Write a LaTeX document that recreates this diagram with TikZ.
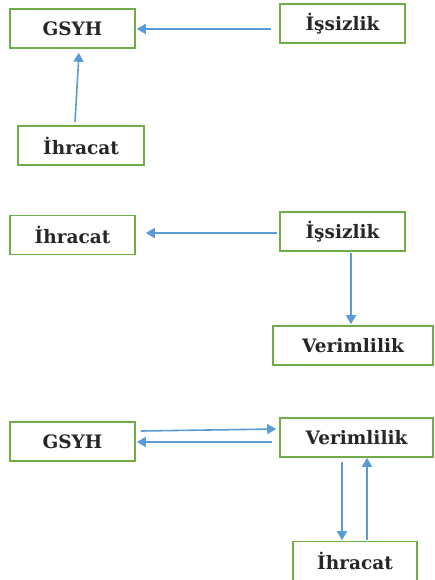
\documentclass[tikz,border=0pt]{standalone}
\usepackage{fontspec}
\setmainfont{DejaVu Serif}
\usetikzlibrary{arrows.meta}
\definecolor{boxgreen}{HTML}{70AD47}
\definecolor{arrblue}{HTML}{5B9BD5}
\tikzset{
  box/.style={draw=boxgreen, line width=1.6pt, fill=white, rectangle, minimum height=39pt, inner sep=0pt, font=\fontsize{18.5}{22}\selectfont\bfseries, text=black!85},
  conn/.style={draw=arrblue, line width=1.6pt, -{Triangle[length=9pt,width=10pt]}}
}
\begin{document}
\begin{tikzpicture}[x=1pt,y=-1pt]
\useasboundingbox (0,0) rectangle (434,580);
% section 1
\node[box, minimum width=125pt] (gsyh1) at (72.5,28.5) {GSYH};
\node[box, minimum width=125pt] (iss1) at (342.5,23.5) {İşsizlik};
\node[box, minimum width=126pt] (ihr1) at (81,145.5) {İhracat};
\draw[conn] ([shift={(-8,5.5)}]iss1.west) -- ([shift={(1,0.5)}]gsyh1.east);
\draw[conn] ([shift={(-6,-3)}]ihr1.north) -- ([shift={(6.5,4)}]gsyh1.south);
% section 2
\node[box, minimum width=125pt] (ihr2) at (72.5,235) {İhracat};
\node[box, minimum width=125pt] (iss2) at (342.5,231.5) {İşsizlik};
\node[box, minimum width=160pt] (ver2) at (353,345.5) {Verimlilik};
\draw[conn] ([shift={(-2,1.5)}]iss2.west) -- ([shift={(10,-2)}]ihr2.east);
\draw[conn] ([shift={(8.5,1)}]iss2.south) -- ([shift={(-2,-1)}]ver2.north);
% section 3
\node[box, minimum width=125pt] (gsyh3) at (72.5,441.5) {GSYH};
\node[box, minimum width=153pt] (ver3) at (356.5,437.5) {Verimlilik};
\node[box, minimum width=124pt] (ihr3) at (355,561) {İhracat};
\draw[conn] ([shift={(5,-10.5)}]gsyh3.east) -- ([shift={(-3,-8.5)}]ver3.west);
\draw[conn] ([shift={(-7,4.5)}]ver3.west) -- ([shift={(1,0.5)}]gsyh3.east);
\draw[conn] ([shift={(-14.5,4)}]ver3.south) -- ([shift={(-13,-0.5)}]ihr3.north);
\draw[conn] ([shift={(12,-0.5)}]ihr3.north) -- ([shift={(10.5,0)}]ver3.south);
\end{tikzpicture}
\end{document}
